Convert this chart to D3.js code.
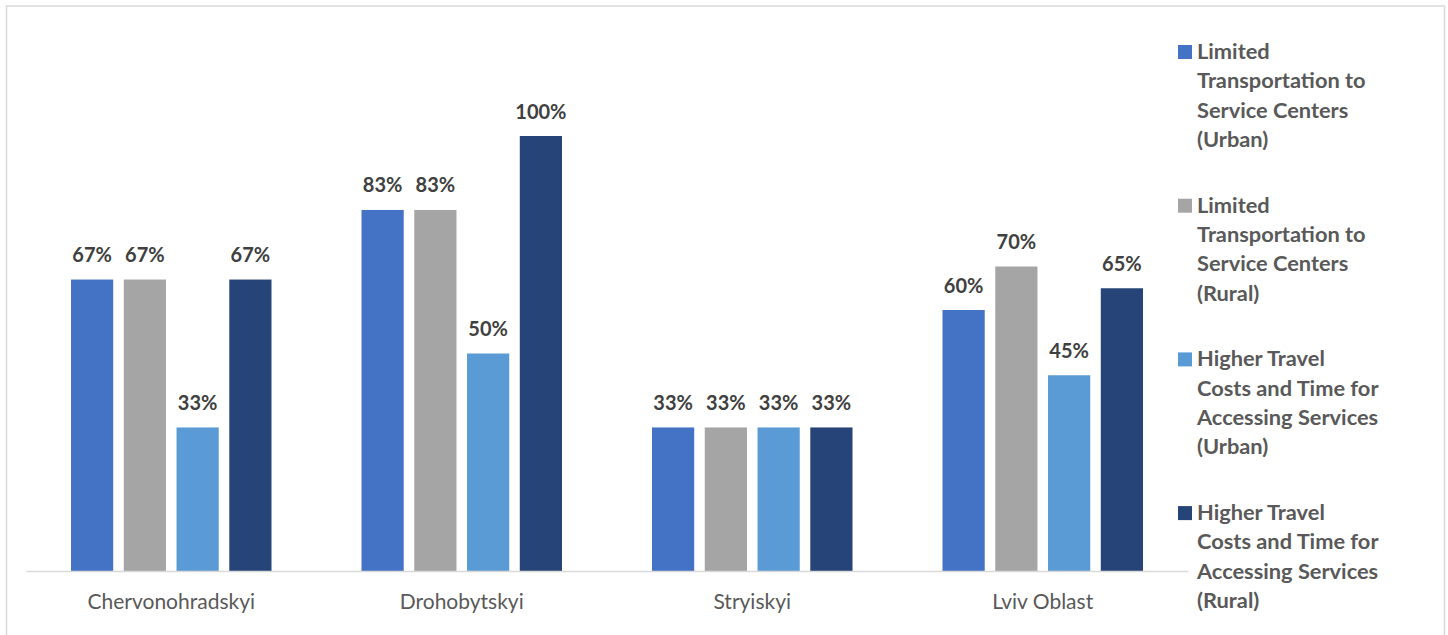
<!DOCTYPE html>
<html>
<head>
<meta charset="utf-8">
<script src="https://cdn.jsdelivr.net/npm/d3@7/dist/d3.min.js"></script>
<style>
  html, body { margin: 0; padding: 0; background: #fff; }
  svg { display: block; }
</style>
</head>
<body>
<svg id="chart" width="1448" height="635"></svg>
<script>
// Regions shown along the x axis
const categories = ["Chervonohradskyi", "Drohobytskyi", "Stryiskyi", "Lviv Oblast"];

// Series names (legend text, wrapped lines)
const seriesNames = [
  ["Limited", "Transportation to", "Service Centers", "(Urban)"],
  ["Limited", "Transportation to", "Service Centers", "(Rural)"],
  ["Higher Travel", "Costs and Time for", "Accessing Services", "(Urban)"],
  ["Higher Travel", "Costs and Time for", "Accessing Services", "(Rural)"]
];

// Share of respondents (%) per region, one array per series
const transportUrban = [67, 83, 33, 60];
const transportRural = [67, 83, 33, 70];
const costsUrban     = [33, 50, 33, 45];
const costsRural     = [67, 100, 33, 65];

const seriesValues = [transportUrban, transportRural, costsUrban, costsRural];
const seriesColors = ["#4472c4", "#a5a5a5", "#5b9bd5", "#264478"];

const svg = d3.select("#chart");
const FONT = "Lato, 'Open Sans', sans-serif";

// Outer frame
svg.append("rect")
  .attr("x", 6.5).attr("y", 6)
  .attr("width", 1438).attr("height", 640)
  .attr("fill", "none")
  .attr("stroke", "#d9d9d9")
  .attr("stroke-width", 1.5);

const plot = { left: 26, right: 1188, top: 136, bottom: 571 };

const x0 = d3.scaleBand()
  .domain(categories)
  .range([plot.left, plot.right])
  .paddingInner(0)
  .paddingOuter(0);

const groupPad = 45;
const x1 = d3.scaleBand()
  .domain(d3.range(seriesValues.length))
  .range([groupPad, x0.bandwidth() - groupPad])
  .paddingInner(0.2);

const y = d3.scaleLinear()
  .domain([0, 100])
  .range([plot.bottom, plot.top]);

// Bars and value labels
const groups = svg.append("g").selectAll("g")
  .data(categories)
  .join("g")
  .attr("transform", d => `translate(${x0(d)},0)`);

const cells = groups.selectAll("g.cell")
  .data((c, ci) => seriesValues.map((vals, si) => ({ si, v: vals[ci] })))
  .join("g").attr("class", "cell");

cells.append("rect")
  .attr("x", d => x1(d.si))
  .attr("y", d => y(d.v))
  .attr("width", x1.bandwidth())
  .attr("height", d => y(0) - y(d.v))
  .attr("fill", d => seriesColors[d.si]);

cells.append("text")
  .attr("x", d => x1(d.si) + x1.bandwidth() / 2)
  .attr("y", d => y(d.v) - 17.5)
  .attr("text-anchor", "middle")
  .attr("font-family", FONT)
  .attr("font-weight", "bold")
  .attr("font-size", 20)
  .attr("fill", "#404040")
  .text(d => d.v + "%");

// Category axis
const xAxis = svg.append("g")
  .attr("transform", `translate(0,${plot.bottom})`)
  .call(d3.axisBottom(x0).tickSize(0).tickPadding(0));
xAxis.select(".domain")
  .attr("stroke", "#d9d9d9")
  .attr("stroke-width", 1.5);
xAxis.selectAll(".tick text")
  .attr("y", 38)
  .attr("dy", 0)
  .attr("font-family", FONT)
  .attr("font-size", 21)
  .attr("fill", "#595959");

// Legend
const legend = svg.append("g").attr("transform", "translate(1178,0)");
const entryTop = 59, entryStep = 153.7, lineStep = 29.3;
const items = legend.selectAll("g")
  .data(seriesNames)
  .join("g")
  .attr("transform", (d, i) => `translate(0,${entryTop + i * entryStep})`);
items.append("rect")
  .attr("x", 0).attr("y", -14)
  .attr("width", 14).attr("height", 14)
  .attr("fill", (d, i) => seriesColors[i]);
items.append("text")
  .attr("font-family", FONT)
  .attr("font-weight", "bold")
  .attr("font-size", 21.8)
  .attr("fill", "#595959")
  .selectAll("tspan")
  .data(d => d)
  .join("tspan")
  .attr("x", 19)
  .attr("y", (d, i) => i * lineStep)
  .text(d => d);
</script>
</body>
</html>
